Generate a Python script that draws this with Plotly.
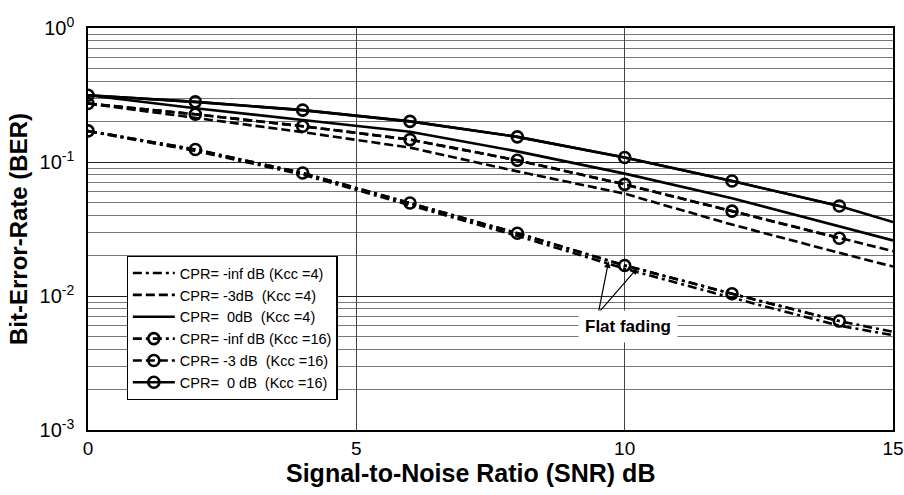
import math
import plotly.graph_objects as go

# ---- data ----
snr = [0, 2, 4, 6, 8, 10, 12, 14, 15]

ber_inf_k4 = [0.170, 0.121, 0.0805, 0.0478, 0.0281, 0.0160, 0.0097, 0.0060, 0.0051]
ber_m3_k4 = [0.273, 0.214, 0.167, 0.128, 0.0851, 0.058, 0.0341, 0.0210, 0.0166]
ber_0_k4 = [0.315, 0.252, 0.206, 0.168, 0.120, 0.0819, 0.0537, 0.0330, 0.0260]

ber_inf_k16 = [0.1706, 0.1239, 0.0828, 0.0494, 0.0294, 0.0169, 0.0104, 0.0065, 0.0054]
ber_m3_k16 = [0.273, 0.227, 0.185, 0.147, 0.103, 0.0681, 0.0430, 0.0270, 0.0216]
ber_0_k16 = [0.315, 0.281, 0.244, 0.201, 0.154, 0.108, 0.0721, 0.0469, 0.0356]

n_marked = 8  # markers drawn on SNR = 0..14

names_k4 = ["CPR= -inf dB (Kcc =4)", "CPR= -3dB\u00a0\u00a0(Kcc =4)", "CPR=\u00a0\u00a00dB\u00a0\u00a0(Kcc =4)"]
names_k16 = ["CPR= -inf dB (Kcc =16)", "CPR= -3 dB\u00a0\u00a0(Kcc =16)", "CPR=\u00a0\u00a00 dB\u00a0\u00a0(Kcc =16)"]

y_ticks = [1, 0.1, 0.01, 0.001]
y_ticktext = ["10<sup>0</sup>", "10<sup>-1</sup>", "10<sup>-2</sup>", "10<sup>-3</sup>"]
x_ticks = [0, 5, 10, 15]

x_title = "Signal-to-Noise Ratio (SNR) dB"
y_title = "Bit-Error-Rate (BER)"
annot_text = "Flat fading"

# ---- figure ----
FONT = "Liberation Sans, Arial, Helvetica, sans-serif"
LW = 2.6
dashes = ["9px,4px,3px,4px", "9px,4px", "solid"]

fig = go.Figure()

series_k4 = [ber_inf_k4, ber_m3_k4, ber_0_k4]
series_k16 = [ber_inf_k16, ber_m3_k16, ber_0_k16]

for ys, nm, d in zip(series_k4, names_k4, dashes):
    fig.add_trace(go.Scatter(x=snr, y=ys, mode="lines", name=nm,
                             line=dict(color="black", width=LW, dash=d)))

for ys, nm, d in zip(series_k16, names_k16, dashes):
    # full line (to SNR = 15)
    fig.add_trace(go.Scatter(x=snr, y=ys, mode="lines", showlegend=False,
                             line=dict(color="black", width=LW, dash=d)))
    # marked part
    fig.add_trace(go.Scatter(x=snr[:n_marked], y=ys[:n_marked], mode="lines+markers", name=nm,
                             line=dict(color="black", width=LW, dash=d),
                             marker=dict(symbol="circle-open", size=11,
                                         line=dict(color="black", width=2.6))))

minor_vals = [m * 10 ** e for e in (-3, -2, -1) for m in range(2, 10)]

fig.update_layout(
    width=904, height=495,
    paper_bgcolor="white", plot_bgcolor="white",
    margin=dict(l=88, r=11, t=28, b=65),
    font=dict(family=FONT, color="black", size=18),
    showlegend=True,
    legend=dict(x=0.048, y=0.433, xanchor="left", yanchor="top",
                bgcolor="white", bordercolor="black", borderwidth=1.2,
                font=dict(family=FONT, size=14.5, color="black"),
                traceorder="normal", itemwidth=42, tracegroupgap=0),
    xaxis=dict(range=[0, 15], tickmode="array", tickvals=x_ticks,
               showgrid=True, gridcolor="#444", gridwidth=1,
               showline=True, linecolor="black", linewidth=1.5, mirror=True,
               ticks="", zeroline=False, automargin=False,
               tickfont=dict(family=FONT, size=19)),
    yaxis=dict(type="log", range=[-3, 0], tickmode="array", tickvals=y_ticks,
               ticktext=y_ticktext,
               showgrid=True, gridcolor="#222", gridwidth=1,
               minor=dict(tickmode="array", tickvals=minor_vals, showgrid=True,
                          gridcolor="#777", gridwidth=1, ticks=""),
               showline=True, linecolor="black", linewidth=1.5, mirror=True,
               ticks="", zeroline=False, ticklabelstandoff=8, automargin=False,
               tickfont=dict(family=FONT, size=20),
               title=dict(text=y_title, standoff=5,
                          font=dict(family=FONT, size=24, weight="bold"))),
)

# x-axis title (placed slightly left of centre, as in the reference)
fig.add_annotation(x=0.475, y=-0.107, xref="paper", yref="paper", text=x_title,
                   showarrow=False, xanchor="center", yanchor="middle",
                   font=dict(family=FONT, size=25, color="black", weight="bold"))

# arrows for "Flat fading"
tail = (9.51, 0.00747)
tips = [(9.70, 0.0182), (10.24, 0.0162)]
for tx, ty in tips:
    fig.add_annotation(x=tx, y=math.log10(ty), ax=tail[0], ay=math.log10(tail[1]),
                       xref="x", yref="y", axref="x", ayref="y", text="",
                       showarrow=True, arrowhead=2, arrowsize=1.1, arrowwidth=1.2,
                       arrowcolor="black")

fig.add_annotation(x=10.06, y=math.log10(0.0059), xref="x", yref="y", text=annot_text,
                   showarrow=False, bgcolor="white", borderpad=6,
                   font=dict(family=FONT, size=17, color="black", weight="bold"))

fig.write_html("out.html", config={"displayModeBar": False},
               post_script="document.body.style.margin='0';document.body.style.overflow='hidden';")
